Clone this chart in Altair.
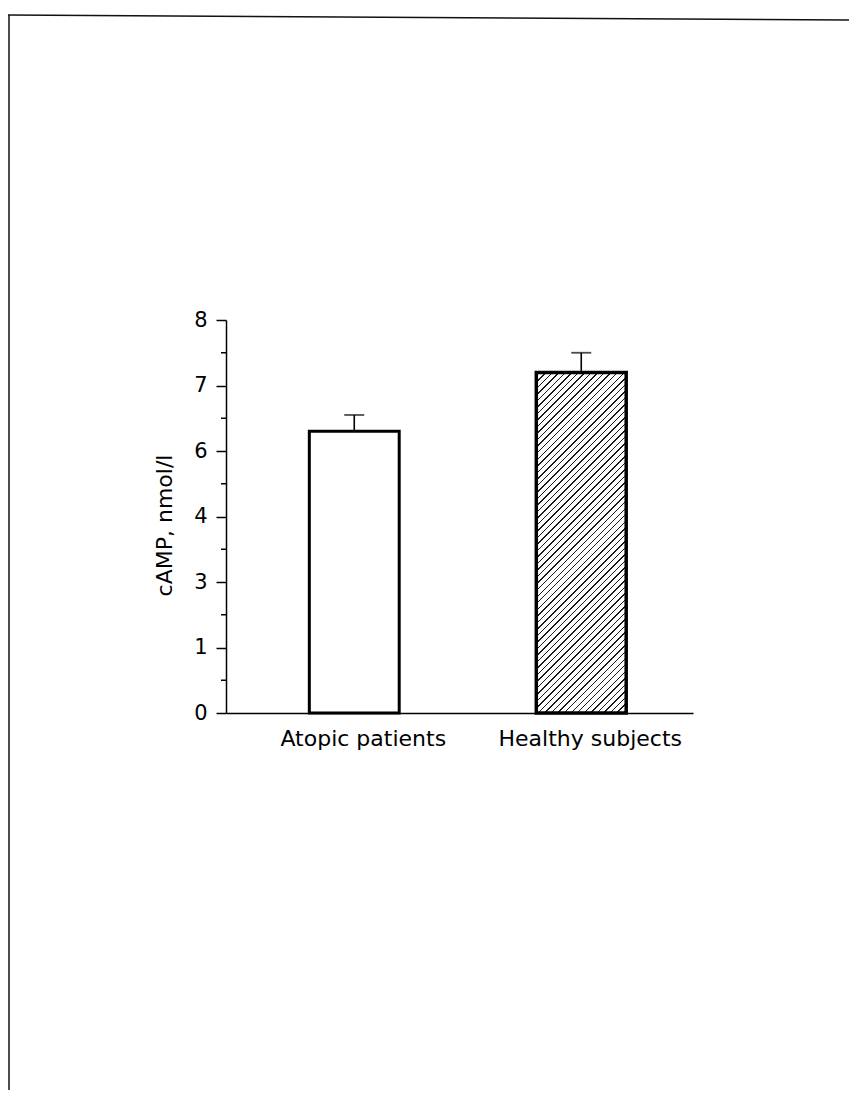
import altair as alt
import numpy as np
import pandas as pd

# ---- data ----
groups = ["Atopic patients", "Healthy subjects"]
means = [6.3, 7.2]
upper = [6.55, 7.5]
major_ticks = [0, 1, 3, 4, 6, 7, 8]
minor_ticks = [0.5, 2, 3.5, 5, 6.5, 7.5]

df = pd.DataFrame({"group": groups, "mean": means, "upper": upper})
minor_df = pd.DataFrame({"v": minor_ticks})

# ---- layout ----
W, H = 467, 393
PAD = {"left": 218, "top": 312, "right": 156, "bottom": 377}
p_inner, p_outer, b_align = 0.604, 0.3307, 0.555
FONT = "DejaVu Sans"

y_range = [H - H * i / (len(major_ticks) - 1) for i in range(len(major_ticks))]
y_scale = alt.Scale(domain=major_ticks, range=y_range, nice=False, zero=False)
x_scale = alt.Scale(domain=groups, paddingInner=p_inner, paddingOuter=p_outer, align=b_align)

# hatch gradient ("/" stripes) for the hatched bar
step = W / (len(groups) - p_inner + 2 * p_outer)
bw = step * (1 - p_inner)
bh = H * np.interp(means[1], major_ticks, range(len(major_ticks))) / (len(major_ticks) - 1)
k = (bw + bh) * bw / (bw ** 2 + bh ** 2)
n_stripes = int(round((bw + bh) / 6.5))
f = 0.22
stops = [alt.GradientStop(offset=0, color="white")]
for i in range(n_stripes):
    a = (i + 0.5 - f / 2) / n_stripes
    b = (i + 0.5 + f / 2) / n_stripes
    stops += [
        alt.GradientStop(offset=a, color="white"),
        alt.GradientStop(offset=a, color="#1a1a1a"),
        alt.GradientStop(offset=b, color="#1a1a1a"),
        alt.GradientStop(offset=b, color="white"),
    ]
stops.append(alt.GradientStop(offset=1, color="white"))
hatch = alt.Gradient(gradient="linear", stops=stops, x1=0, y1=0, x2=k, y2=k * bh / bw)

x_enc = alt.X(
    "group:N", scale=x_scale, sort=groups,
    axis=alt.Axis(title=None, ticks=False, labelPadding=15, labelFont=FONT,
                  labelFontSize=22, labelColor="black", domainColor="black",
                  domainWidth=1.5, labelAngle=0, labelOffset=9, labelLimit=0,
                  labelOverlap=False),
)
y_enc = alt.Y(
    "mean:Q", scale=y_scale,
    axis=alt.Axis(title="cAMP, nmol/l", values=major_ticks, tickSize=10, tickWidth=1.5,
                  tickColor="black", domainColor="black", domainWidth=1.5,
                  labelFont=FONT, labelFontSize=21, labelColor="black", labelPadding=9,
                  titleFont=FONT, titleFontSize=22, titleFontWeight="normal",
                  titleColor="black", titleX=-62, titleY=205, titleBaseline="middle",
                  grid=False),
)

base = alt.Chart(df)

err_line = base.mark_rule(color="black", strokeWidth=1.6).encode(
    x=x_enc, y=alt.Y("mean:Q", scale=y_scale), y2="upper:Q"
)
err_cap = base.mark_tick(color="black", thickness=1.8, size=20).encode(
    x=alt.X("group:N", scale=x_scale, sort=groups), y=alt.Y("upper:Q", scale=y_scale)
)
bar_open = base.transform_filter(alt.datum.group == groups[0]).mark_bar(
    fill="white", stroke="black", strokeWidth=3
).encode(x=x_enc, y=y_enc)
bar_hatch = base.transform_filter(alt.datum.group == groups[1]).mark_bar(
    fill=hatch, stroke="black", strokeWidth=3.5
).encode(x=alt.X("group:N", scale=x_scale, sort=groups), y=alt.Y("mean:Q", scale=y_scale))

minor = alt.Chart(minor_df).mark_rule(color="black", strokeWidth=1.5).encode(
    y=alt.Y("v:Q", scale=y_scale), x=alt.value(-5), x2=alt.value(0)
)

frame_data = alt.Data(values=[{"f": 1}])
frame_top = alt.Chart(frame_data).mark_rule(color="#111", strokeWidth=1.5).encode(
    x=alt.value(-221), y=alt.value(-305), x2=alt.value(631), y2=alt.value(-300)
)
frame_left = alt.Chart(frame_data).mark_rule(color="#111", strokeWidth=1.5).encode(
    x=alt.value(-217), y=alt.value(-305), y2=alt.value(780)
)

chart = alt.layer(
    err_line, err_cap, bar_open, bar_hatch, minor, frame_top, frame_left
).properties(
    width=W, height=H,
    autosize=alt.AutoSizeParams(type="none"),
    padding=PAD,
    background="white",
).configure_view(stroke=None)

chart.save("out.html", embed_options={"renderer": "svg", "actions": False})
